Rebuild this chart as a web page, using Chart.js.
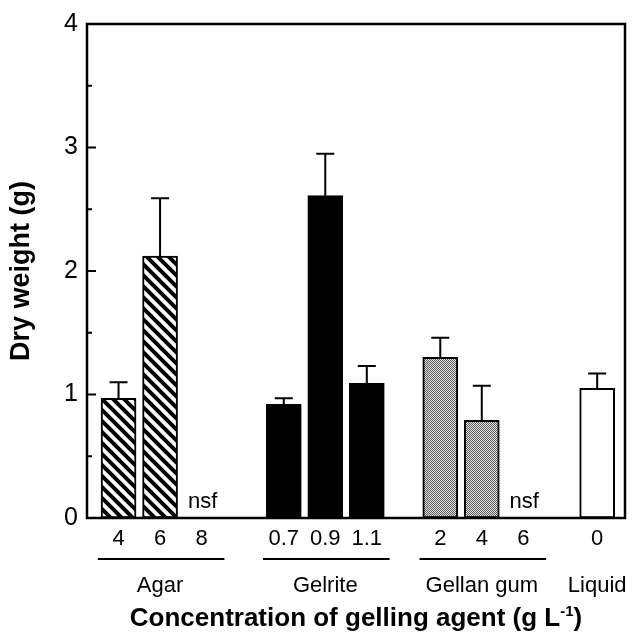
<!DOCTYPE html>
<html>
<head>
<meta charset="utf-8">
<script src="https://cdn.jsdelivr.net/npm/chart.js@4/dist/chart.umd.min.js"></script>
<style>
  html, body { margin: 0; padding: 0; background: #fff; }
</style>
</head>
<body>
<canvas id="chart" width="637" height="635"></canvas>
<script>
// values
const concentrations = ['4', '6', '8', '0.7', '0.9', '1.1', '2', '4', '6', '0'];
const agentNames = ['Agar', 'Gelrite', 'Gellan gum', 'Liquid'];
const agentOfBar = [0, 0, 0, 1, 1, 1, 2, 2, 2, 3];
const dryWeight = [0.97, 2.12, null, 0.92, 2.61, 1.09, 1.30, 0.79, null, 1.05];
const stdError = [0.13, 0.47, null, 0.05, 0.34, 0.14, 0.16, 0.28, null, 0.12];
const yTickValues = [0, 1, 2, 3, 4];

// layout: where each agent's group starts on the x axis (in bar slots)
const groupStart = [0, 3.98, 7.75, 11.53];
const slotX = concentrations.map((c, i) => {
    const g = agentOfBar[i];
    return groupStart[g] + (i - agentOfBar.indexOf(g));
});

const FONT = "'Liberation Sans', Arial, Helvetica, sans-serif";

// fill patterns
const makeHatch = () => {
    const s = 11;
    const c = document.createElement('canvas');
    c.width = s; c.height = s;
    const g = c.getContext('2d');
    g.fillStyle = '#fff';
    g.fillRect(0, 0, s, s);
    g.strokeStyle = '#000';
    g.lineWidth = 4;
    g.beginPath();
    for (let k = -1; k <= 1; k++) {
        g.moveTo(k * s - 2, -2);
        g.lineTo(k * s + s + 2, s + 2);
    }
    g.stroke();
    return g.createPattern(c, 'repeat');
};

const makeStipple = () => {
    const c = document.createElement('canvas');
    c.width = 2; c.height = 2;
    const g = c.getContext('2d');
    g.fillStyle = '#dedede';
    g.fillRect(0, 0, 2, 2);
    g.fillStyle = '#606060';
    g.fillRect(0, 0, 1, 1);
    g.fillRect(1, 1, 1, 1);
    return g.createPattern(c, 'repeat');
};

const agentFill = [makeHatch(), '#000', makeStipple(), '#fff'];

// frame + inward ticks on the y axis
const framePlugin = {
    id: 'frame',
    afterDatasetsDraw(chart) {
        const { ctx, chartArea: a, scales: { y } } = chart;
        ctx.save();
        ctx.strokeStyle = '#000';
        ctx.lineWidth = 2.5;
        ctx.strokeRect(a.left, a.top, a.right - a.left, a.bottom - a.top);
        ctx.lineWidth = 2;
        y.ticks.forEach(t => {
            const py = y.getPixelForValue(t.value);
            const len = Number.isInteger(t.value) ? 9 : 5;
            ctx.beginPath();
            ctx.moveTo(a.left, py);
            ctx.lineTo(a.left + len, py);
            ctx.stroke();
        });
        ctx.restore();
    }
};

// upward error bars and "nsf" labels
const errorPlugin = {
    id: 'errors',
    afterDatasetsDraw(chart) {
        const { ctx, scales: { x, y } } = chart;
        ctx.save();
        ctx.strokeStyle = '#000';
        ctx.fillStyle = '#000';
        ctx.lineWidth = 2;
        dryWeight.forEach((v, i) => {
            const px = x.getPixelForValue(slotX[i]);
            if (v === null) {
                ctx.font = '22px ' + FONT;
                ctx.textAlign = 'center';
                ctx.textBaseline = 'alphabetic';
                ctx.fillText('nsf', px + 1, y.getPixelForValue(0) - 10);
                return;
            }
            const y0 = y.getPixelForValue(v);
            const y1 = y.getPixelForValue(v + stdError[i]);
            ctx.beginPath();
            ctx.moveTo(px, y0);
            ctx.lineTo(px, y1);
            ctx.moveTo(px - 9, y1);
            ctx.lineTo(px + 9, y1);
            ctx.stroke();
        });
        ctx.restore();
    }
};

// group underlines, agent names and the x axis title
const groupPlugin = {
    id: 'groups',
    afterDraw(chart) {
        const { ctx, scales: { x } } = chart;
        ctx.save();
        ctx.fillStyle = '#000';
        ctx.strokeStyle = '#000';
        agentNames.forEach((name, g) => {
            const xs = slotX.filter((_, i) => agentOfBar[i] === g);
            const lo = Math.min(...xs), hi = Math.max(...xs);
            if (xs.length > 1) {
                ctx.lineWidth = 2;
                ctx.beginPath();
                ctx.moveTo(x.getPixelForValue(lo - 0.5), 559);
                ctx.lineTo(x.getPixelForValue(hi + 0.55), 559);
                ctx.stroke();
            }
            ctx.font = '22px ' + FONT;
            ctx.textAlign = 'center';
            ctx.textBaseline = 'alphabetic';
            ctx.fillText(name, x.getPixelForValue((lo + hi) / 2), 592);
        });

        // title with superscript
        const main = 'Concentration of gelling agent (g L';
        const sup = '-1';
        const tail = ')';
        const big = 'bold 26px ' + FONT;
        const small = 'bold 15px ' + FONT;
        ctx.font = big;
        const w1 = ctx.measureText(main).width;
        const w3 = ctx.measureText(tail).width;
        ctx.font = small;
        const w2 = ctx.measureText(sup).width;
        const cx = (chart.chartArea.left + chart.chartArea.right) / 2;
        let sx = cx - (w1 + w2 + w3) / 2;
        const base = 626;
        ctx.textAlign = 'left';
        ctx.font = big;
        ctx.fillText(main, sx, base);
        sx += w1;
        ctx.font = small;
        ctx.fillText(sup, sx, base - 10);
        sx += w2;
        ctx.font = big;
        ctx.fillText(tail, sx, base);
        ctx.restore();
    }
};

const points = [];
const fills = [];
dryWeight.forEach((v, i) => {
    if (v !== null) {
        points.push({ x: slotX[i], y: v });
        fills.push(agentFill[agentOfBar[i]]);
    }
});

new Chart(document.getElementById('chart'), {
    type: 'bar',
    data: {
        datasets: [{
            label: 'Dry weight',
            data: points,
            backgroundColor: fills,
            borderColor: '#000',
            borderWidth: 2,
            borderSkipped: false,
            barThickness: 35
        }]
    },
    options: {
        responsive: false,
        animation: false,
        events: [],
        layout: { padding: { left: 0, top: 18, right: 12, bottom: 0 } },
        plugins: {
            legend: { display: false },
            tooltip: { enabled: false }
        },
        scales: {
            x: {
                type: 'linear',
                offset: false,
                bounds: 'data',
                min: -0.76,
                max: 12.2,
                grid: { display: false, drawTicks: false },
                border: { display: false },
                afterBuildTicks: axis => {
                    axis.ticks = slotX.map(v => ({ value: v }));
                },
                afterFit: axis => { axis.height = 117; },
                ticks: {
                    autoSkip: false,
                    maxRotation: 0,
                    padding: 8,
                    color: '#000',
                    font: { family: FONT, size: 22 },
                    callback: (value, index) => concentrations[index]
                }
            },
            y: {
                min: 0,
                max: 4,
                grid: { display: false, drawTicks: false },
                border: { display: false },
                afterFit: axis => { axis.width = 87; },
                ticks: {
                    stepSize: 0.5,
                    padding: 9,
                    color: '#000',
                    font: { family: FONT, size: 25 },
                    callback: value => yTickValues.includes(value) ? String(value) : ''
                },
                title: {
                    display: true,
                    text: 'Dry weight (g)',
                    color: '#000',
                    padding: { top: 5 },
                    font: { family: FONT, size: 27, weight: 'bold' }
                }
            }
        }
    },
    plugins: [framePlugin, errorPlugin, groupPlugin]
});
</script>
</body>
</html>
